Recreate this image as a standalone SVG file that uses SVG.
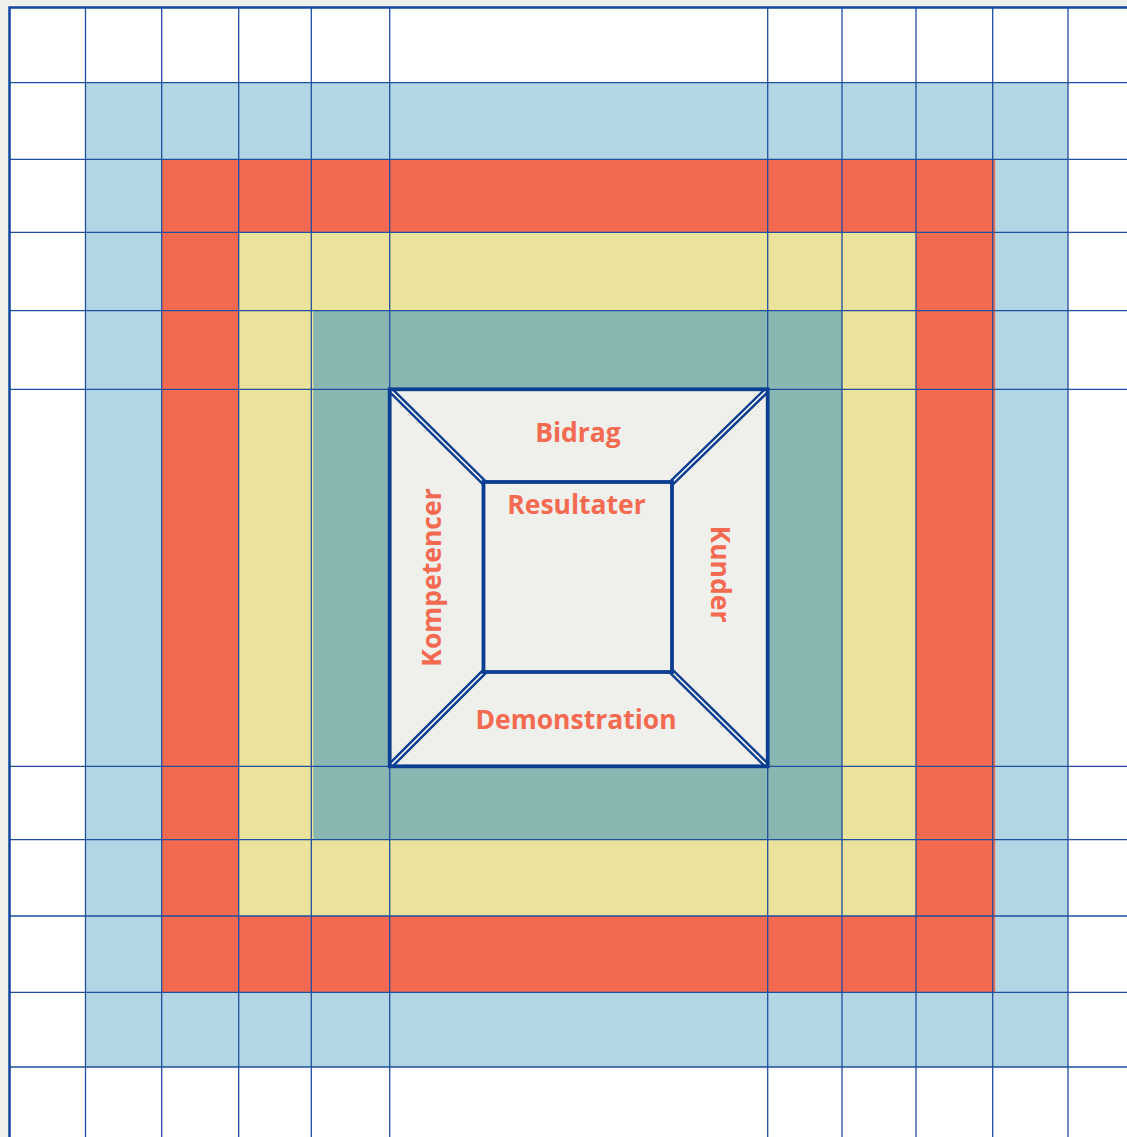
<svg xmlns="http://www.w3.org/2000/svg" width="1127" height="1137" viewBox="0 0 1127 1137">
<style>
.grid{stroke:#1f4f9f;stroke-width:1.3;fill:none}
.border{stroke:#0f47a0;stroke-width:2.5;fill:none}
.box{stroke:#0b3d91;stroke-width:3.8;fill:none}
.dblo{stroke:#0b3d91;stroke-width:6.5;stroke-linecap:butt}
.dbli{stroke:#ffffff;stroke-width:1.6;stroke-linecap:butt}
.lbl{font-family:"Open Sans","Liberation Sans",sans-serif;font-weight:700;font-size:26.5px;fill:#f46a51;text-anchor:middle}
</style>
<rect x="0" y="0" width="1127" height="1137" fill="#efefeb"/>
<rect x="9.5" y="7.5" width="1118" height="1130" fill="#ffffff"/>
<g id="rings">
<rect x="85.5" y="82.7" width="982.5" height="984.3" fill="#b3d6e4"/>
<rect x="161.7" y="159.3" width="833.5" height="833" fill="#f46a51"/>
<rect x="238.7" y="232.3" width="677.3" height="683.7" fill="#ebe29c"/>
<rect x="313.3" y="310.7" width="528.7" height="529" fill="#88b7b1"/>
</g>
<g id="grid">
<path class="grid" d="M85.5 7.5V1137M161.7 7.5V1137M238.7 7.5V1137M311.3 7.5V1137M389.7 7.5V1137M767.7 7.5V1137M842 7.5V1137M916 7.5V1137M992.7 7.5V1137M1068 7.5V1137"/>
<path class="grid" d="M9.5 82.7H1127M9.5 159.3H1127M9.5 232.3H1127M9.5 310.7H1127M9.5 389.3H1127M9.5 766.3H1127M9.5 839.7H1127M9.5 916H1127M9.5 992.3H1127M9.5 1067H1127"/>
<path class="border" d="M9.5 1137V7.5H1127"/>
</g>
<g id="center">
<rect x="389.7" y="389.3" width="378" height="377" fill="#efefeb"/>
<g id="connectors">
<line class="dblo" x1="391" y1="390.5" x2="485" y2="483.5"/>
<line class="dbli" x1="391" y1="390.5" x2="485" y2="483.5"/>
<line class="dblo" x1="766.5" y1="390.5" x2="671" y2="483.5"/>
<line class="dbli" x1="766.5" y1="390.5" x2="671" y2="483.5"/>
<line class="dblo" x1="391" y1="765" x2="485" y2="671"/>
<line class="dbli" x1="391" y1="765" x2="485" y2="671"/>
<line class="dblo" x1="766.5" y1="765" x2="671" y2="671"/>
<line class="dbli" x1="766.5" y1="765" x2="671" y2="671"/>
</g>
<rect class="box" x="389.7" y="389.3" width="378" height="377"/>
<rect id="inner" class="box" x="483.5" y="482" width="188.5" height="190"/>
</g>
<g id="labels">
<text class="lbl" x="578" y="442">Bidrag</text>
<text class="lbl" x="576.5" y="513.5">Resultater</text>
<text class="lbl" x="576" y="728.5">Demonstration</text>
<text class="lbl" transform="translate(441 577.5) rotate(-90)">Kompetencer</text>
<text class="lbl" transform="translate(711 574) rotate(90)">Kunder</text>
</g>
</svg>
